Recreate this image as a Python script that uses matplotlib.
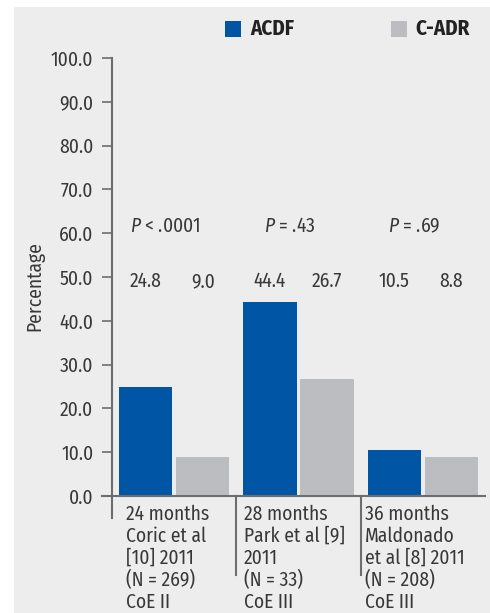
import numpy as np
import matplotlib
matplotlib.use("Agg")
from matplotlib import pyplot as plt
from matplotlib.patches import Rectangle

plt.rcParams['font.family'] = ['Fira Sans Condensed', 'DejaVu Sans']
plt.rcParams['font.weight'] = 'normal'
plt.rcParams['mathtext.fontset'] = 'custom'
plt.rcParams['mathtext.it'] = 'Fira Sans Condensed:italic'
plt.rcParams['mathtext.rm'] = 'Fira Sans Condensed'

groups = ["24 months\nCoric et al\n[10] 2011\n(N = 269)\nCoE II",
          "28 months\nPark et al [9]\n2011\n(N = 33)\nCoE III",
          "36 months\nMaldonado\net al [8] 2011\n(N = 208)\nCoE III"]
acdf = [24.8, 44.4, 10.5]
cadr = [9.0, 26.7, 8.8]
pvals = ["$P$ < .0001", "$P$ = .43", "$P$ = .69"]
yticks = [0, 10, 20, 30, 40, 50, 60, 70, 80, 90, 100]

blue = "#0056a4"
grey = "#bcbdc0"
txt = "#383838"
line = "#6d6d6d"
fs = 14

W, H = 490, 613
fig = plt.figure(figsize=(W / 100, H / 100), dpi=100, facecolor="white")
fig.patches.append(Rectangle((14 / W, 0), 1, 1 - 7 / H, transform=fig.transFigure,
                             facecolor="#ededed", edgecolor="none", zorder=-10))

ax = fig.add_axes([112 / W, (H - 496) / H, 373 / W, 438 / H])
ax.set_facecolor("none")
x = np.arange(len(groups))
w = 0.43
ax.bar(x - 0.23, acdf, w, color=blue, zorder=2)
ax.bar(x + 0.23, cadr, w, color=grey, zorder=2)
ax.set_xlim(-0.5, 2.5)
ax.set_ylim(0, 100)

for s in ax.spines.values():
    s.set_visible(False)
ax.set_xticks([])
ax.set_yticks(yticks)
ax.set_yticklabels(["%.1f" % v for v in yticks], fontsize=fs, color=txt)
ax.tick_params(axis="y", direction="out", length=7.5, width=1.2, color=line, pad=6)

# axis lines
ax.plot([0, 0], [1, -0.05], transform=ax.transAxes, color=line, lw=1.5, clip_on=False)
ax.plot([-0.027, 1.0], [0, 0], transform=ax.transAxes, color=line, lw=1.5, clip_on=False)
tr = matplotlib.transforms.blended_transform_factory(ax.transData, ax.transAxes)
for b in [0.5, 1.5]:
    ax.plot([b, b], [0, -0.18], transform=tr, color=line, lw=1.5, clip_on=False)

pads = [0.11, 0.06, 0.035]
for i, g in enumerate(groups):
    ax.text(i - 0.5 + pads[i], -0.02, g, transform=tr, ha="left", va="top",
            fontsize=fs, color=txt, linespacing=1.14)
    ax.text(i - 0.23, 49, "%.1f" % acdf[i], ha="center", va="center", fontsize=fs, color=txt)
    ax.text(i + 0.23, 49, "%.1f" % cadr[i], ha="center", va="center", fontsize=fs, color=txt)
    ax.text(i - 0.07, 61.5, pvals[i], ha="center", va="center", fontsize=fs, color=txt)

ax.set_ylabel("Percentage", fontsize=fs, color=txt)
ax.yaxis.set_label_coords(-0.182, 0.48)

# legend
fig.patches.append(Rectangle((225 / W, 1 - 37 / H), 16 / W, 16 / H, transform=fig.transFigure,
                             facecolor=blue, edgecolor="none"))
fig.text(250 / W, 1 - 29 / H, "ACDF", fontsize=15, fontweight="bold", color="#222222", va="center")
fig.patches.append(Rectangle((391 / W, 1 - 37 / H), 16 / W, 16 / H, transform=fig.transFigure,
                             facecolor=grey, edgecolor="none"))
fig.text(415 / W, 1 - 29 / H, "C-ADR", fontsize=15, fontweight="bold", color="#222222", va="center")

fig.savefig("out.png", dpi=100, facecolor="white")
